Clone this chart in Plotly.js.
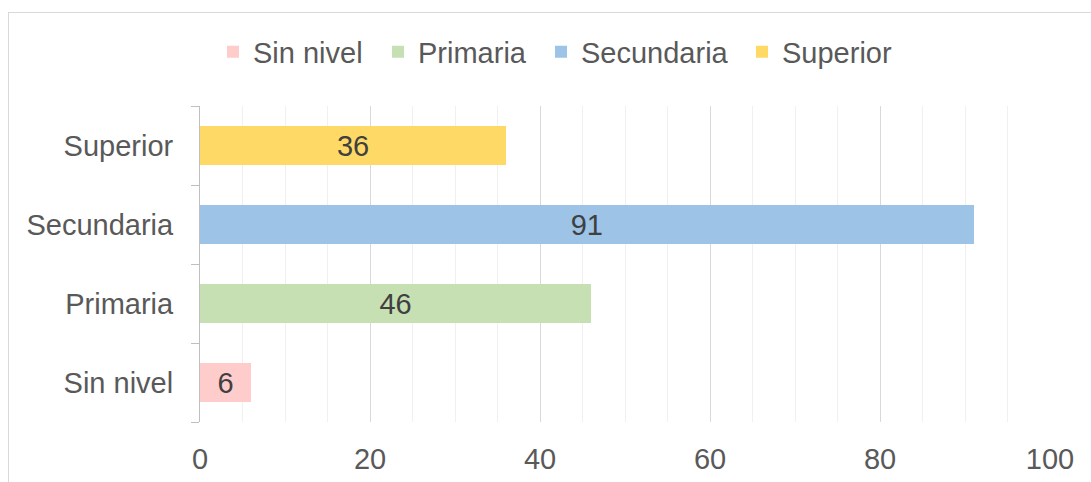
<!DOCTYPE html>
<html>
<head>
<meta charset="utf-8">
<script src="https://cdn.plot.ly/plotly-3.0.1.min.js"></script>
<style>
  html, body { margin:0; padding:0; background:#ffffff; }
  #frame { position:absolute; left:8px; top:12px; width:1200px; height:600px; border:1px solid #d9d9d9; box-sizing:border-box; }
  #chart { position:absolute; left:0; top:0; width:1091px; height:482px; }
</style>
</head>
<body>
<div id="frame"></div>
<div id="chart"></div>
<script>
const categories = ["Sin nivel", "Primaria", "Secundaria", "Superior"];
const values = [6, 46, 91, 36];
const seriesNames = ["Sin nivel", "Primaria", "Secundaria", "Superior"];
const colors = ["#ffcccc", "#c6e0b4", "#9dc3e6", "#ffd966"];
const xTicks = [0, 20, 40, 60, 80, 100];

const FONT = "Liberation Sans, Arial, sans-serif";
const FS = 29;
const W = 1091, H = 482;
const legendIds = ["legend", "legend2", "legend3", "legend4"];
const legendLeftPx = [213, 378, 541, 742];

const traces = categories.map((c, i) => ({
  type: "bar",
  orientation: "h",
  name: seriesNames[i],
  legend: legendIds[i],
  y: [c],
  x: [values[i]],
  width: 0.49,
  marker: { color: colors[i] },
  text: [String(values[i])],
  textposition: "inside",
  insidetextanchor: "middle",
  constraintext: "none",
  textfont: { family: FONT, size: FS, color: "#404040" },
  hoverinfo: "x+y"
}));

const layout = {
  width: W,
  height: H,
  margin: { l: 200, r: 41, t: 106, b: 60 },
  paper_bgcolor: "rgba(0,0,0,0)",
  plot_bgcolor: "rgba(0,0,0,0)",
  barmode: "stack",
  font: { family: FONT, size: FS, color: "#595959" },
  showlegend: true,
  xaxis: {
    range: [0, 100],
    tickvals: xTicks,
    ticktext: xTicks.map(String),
    showgrid: true,
    gridcolor: "#d9d9d9",
    gridwidth: 1,
    minor: { dtick: 5, tick0: 0, showgrid: true, gridcolor: "#f0f0f0", gridwidth: 1 },
    zeroline: false,
    showline: false,
    ticks: "",
    ticklabelstandoff: 17,
    tickfont: { family: FONT, size: FS, color: "#595959" },
    fixedrange: true
  },
  yaxis: {
    categoryorder: "array",
    categoryarray: categories,
    showgrid: false,
    zeroline: false,
    showline: true,
    linecolor: "#bfbfbf",
    linewidth: 1,
    ticks: "outside",
    tickson: "boundaries",
    ticklen: 8,
    tickcolor: "#bfbfbf",
    ticklabelstandoff: 20,
    tickfont: { family: FONT, size: FS, color: "#595959" },
    fixedrange: true
  }
};

legendIds.forEach((id, i) => {
  layout[id] = {
    orientation: "h",
    xref: "container", x: legendLeftPx[i] / W, xanchor: "left",
    yref: "container", y: 1 - 52 / H, yanchor: "middle",
    font: { family: FONT, size: FS, color: "#595959" },
    bgcolor: "rgba(0,0,0,0)",
    borderwidth: 0,
    itemclick: false
  };
});

Plotly.newPlot("chart", traces, layout, { displayModeBar: false, staticPlot: true });
</script>
</body>
</html>
